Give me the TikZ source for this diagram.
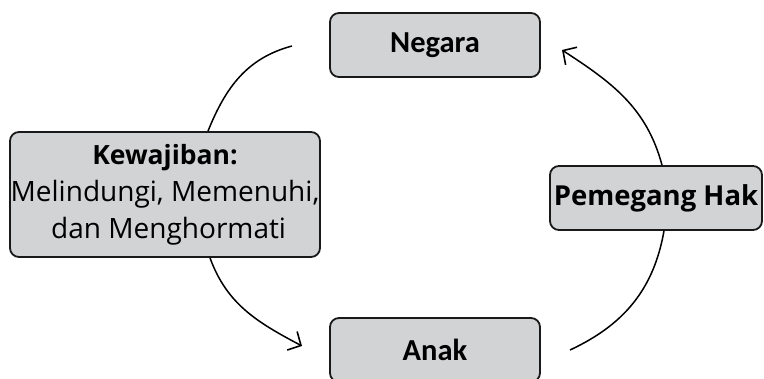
\documentclass[tikz,border=0pt]{standalone}
\usepackage{fontspec}
\setmainfont{Open Sans}
\newfontfamily\calfont{Carlito}
\usetikzlibrary{arrows.meta}
\definecolor{boxfill}{RGB}{210,211,213}
\definecolor{boxline}{RGB}{25,25,25}
\begin{document}
\begin{tikzpicture}[x=1pt,y=-1pt,
  boxnode/.style={draw=boxline, line width=1.8pt, fill=boxfill, rounded corners=9pt, inner sep=0pt, align=center},
  conn/.style={line width=1.5pt, draw=black},
  tip/.style={-{Straight Barb[length=10pt,width=21pt,line width=1.6pt]}}]
\useasboundingbox (0,0) rectangle (764,379);
\node[boxnode, minimum width=210pt, minimum height=64pt, font=\calfont\fontsize{30.5}{36}\selectfont\bfseries] (negara) at (435,45) {Negara};
\node[boxnode, minimum width=210pt, minimum height=64pt, font=\calfont\fontsize{30.5}{36}\selectfont\bfseries] (anak) at (435,350) {Anak};
\node[boxnode, minimum width=310pt, minimum height=125pt, font=\fontsize{28}{37}\selectfont] (kew) at (165,194.5)
  {\fontsize{26.5}{37}\selectfont\textbf{Kewajiban:}\\Melindungi, Memenuhi,\\\ dan Menghormati};
\node[boxnode, minimum width=212pt, minimum height=64pt, font=\fontsize{27.5}{32}\selectfont\bfseries] (hak) at (656,198) {Pemegang Hak};
\coordinate (c1) at (292,46);
\coordinate (c2) at (302,346);
\coordinate (c3) at (570,350);
\coordinate (c4) at (562,50);
\draw[conn] (c1) to[out=195,in=68] (kew.north -| 208,0);
\draw[conn,tip] (kew.south -| 210,0) to[out=-70,in=152] (c2);
\draw[conn] (c3) to[out=25,in=-100] (hak.south -| 664,0);
\draw[conn,tip] (hak.north -| 662,0) to[out=105,in=-33] (c4);
\end{tikzpicture}
\end{document}
